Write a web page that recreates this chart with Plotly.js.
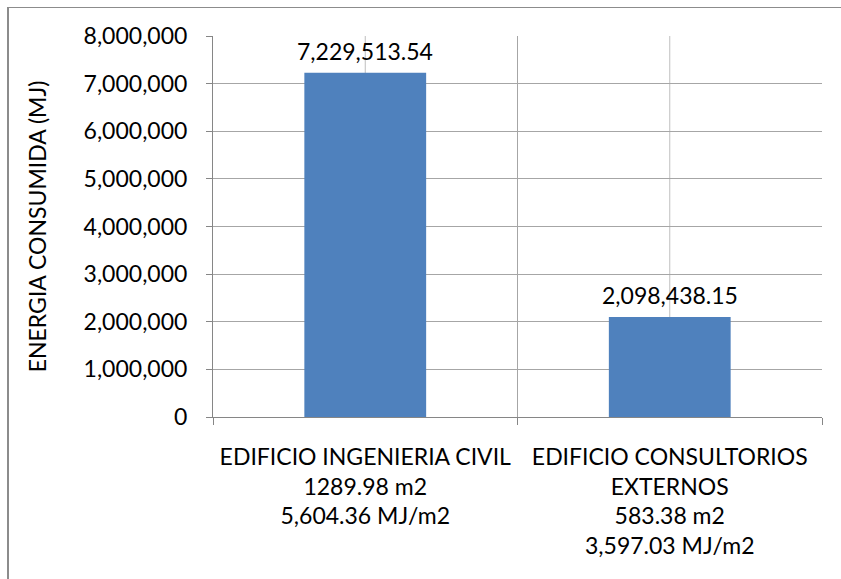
<!DOCTYPE html>
<html>
<head>
<meta charset="utf-8">
<script src="https://cdn.plot.ly/plotly-3.0.1.min.js"></script>
<style>
  html, body { margin: 0; padding: 0; background: #fff; }
  #wrap { position: relative; width: 841px; height: 579px; overflow: hidden; }
  #chart { position: absolute; left: 0; top: 0; width: 841px; height: 579px; }
  #frame { position: absolute; left: 7px; top: 7px; width: 900px; height: 700px;
           border-top: 1px solid #8c8c8c; border-left: 2px solid #8c8c8c; pointer-events: none; }
</style>
</head>
<body>
<div id="wrap">
  <div id="chart"></div>
  <div id="frame"></div>
</div>
<script>
// Data
var categories = ["EDIFICIO INGENIERIA CIVIL", "EDIFICIO CONSULTORIOS EXTERNOS"];
var tickLabels = [
  "EDIFICIO INGENIERIA CIVIL<br>1289.98 m2<br>5,604.36 MJ/m2",
  "EDIFICIO CONSULTORIOS<br>EXTERNOS<br>583.38 m2<br>3,597.03 MJ/m2"
];
var energyMJ = [7229513.54, 2098438.15];
var yTickValues = [0, 1000000, 2000000, 3000000, 4000000, 5000000, 6000000, 7000000, 8000000];
var yTitle = "ENERGIA CONSUMIDA (MJ)";

var FONT = "Lato, 'Open Sans', sans-serif";
var fontSize = 23;

function fmt(v) {
  return v.toLocaleString('en-US', {minimumFractionDigits: 2, maximumFractionDigits: 2});
}

var trace = {
  type: 'bar',
  x: categories,
  y: energyMJ,
  width: 0.4,
  marker: {color: '#4F81BD', line: {width: 0}},
  hoverinfo: 'x+y'
};

var annotations = categories.map(function (c, i) {
  return {
    x: c, y: energyMJ[i], xref: 'x', yref: 'y',
    text: fmt(energyMJ[i]),
    showarrow: false, yanchor: 'bottom', yshift: 6,
    font: {family: FONT, size: fontSize, color: '#000'}
  };
});

var shapes = categories.map(function (c) {
  return {
    type: 'line', xref: 'x', yref: 'paper', x0: c, x1: c, y0: 0, y1: 1,
    line: {color: '#BFBFBF', width: 1}, layer: 'below'
  };
});

var layout = {
  width: 841, height: 579,
  margin: {l: 213, r: 19, t: 36, b: 162},
  paper_bgcolor: '#fff', plot_bgcolor: '#fff',
  showlegend: false,
  font: {family: FONT, size: fontSize, color: '#000'},
  xaxis: {
    type: 'category',
    tickmode: 'array', tickvals: categories, ticktext: tickLabels,
    tickson: 'boundaries',
    ticks: 'outside', ticklen: 7, tickcolor: '#868686', tickwidth: 1,
    showgrid: true, gridcolor: '#A6A6A6', gridwidth: 1,
    showline: true, linecolor: '#868686', linewidth: 1,
    tickfont: {family: FONT, size: fontSize, color: '#000'},
    ticklabelstandoff: 19,
    tickangle: 0,
    fixedrange: true
  },
  yaxis: {
    range: [0, 8000000],
    tickmode: 'array', tickvals: yTickValues,
    tickformat: ',d',
    ticks: 'outside', ticklen: 6, tickcolor: '#868686', tickwidth: 1,
    showgrid: true, gridcolor: '#A6A6A6', gridwidth: 1,
    zeroline: false,
    showline: true, linecolor: '#868686', linewidth: 1,
    tickfont: {family: FONT, size: fontSize, color: '#000'},
    ticklabelstandoff: 14,
    title: {text: yTitle, font: {family: FONT, size: fontSize, color: '#000'}, standoff: 30},
    fixedrange: true
  },
  annotations: annotations,
  shapes: shapes
};

Plotly.newPlot('chart', [trace], layout, {displayModeBar: false, staticPlot: true});
</script>
</body>
</html>
